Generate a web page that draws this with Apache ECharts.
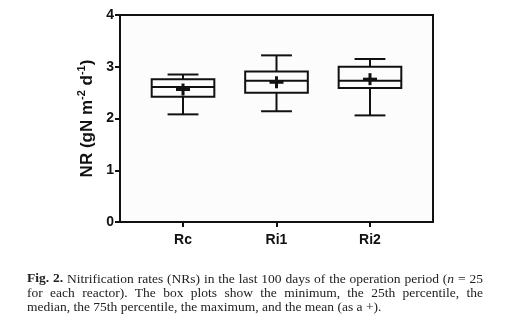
<!DOCTYPE html>
<html><head><meta charset="utf-8">
<script src="https://cdn.jsdelivr.net/npm/echarts@6/dist/echarts.min.js"></script>
<style>html,body{margin:0;padding:0;background:#fff}#c{width:507px;height:334px}</style>
</head><body><div id="c"></div>
<script>
var categories = ['Rc', 'Ri1', 'Ri2'];
var minVals    = [2.08, 2.14, 2.06];
var q1Vals     = [2.42, 2.50, 2.59];
var medianVals = [2.61, 2.73, 2.73];
var q3Vals     = [2.76, 2.91, 3.00];
var maxVals    = [2.85, 3.22, 3.15];
var meanVals   = [2.56, 2.70, 2.76];
var yTicks     = [0, 1, 2, 3, 4];
var captionLines = [
  '**Fig.** **2.** Nitrification rates (NRs) in the last 100 days of the operation period (*n* = 25',
  'for each reactor). The box plots show the minimum, the 25th percentile, the',
  'median, the 75th percentile, the maximum, and the mean (as a +).'
];

var data = categories.map(function (c, i) {
  return [i + 1, minVals[i], q1Vals[i], medianVals[i], q3Vals[i], maxVals[i], meanVals[i]];
});

var BOX_W = 0.67, CAP_W = 0.33;

function renderItem(params, api) {
  var x = api.value(0);
  var pMin = api.coord([x, api.value(1)]);
  var pQ1 = api.coord([x, api.value(2)]);
  var pMed = api.coord([x, api.value(3)]);
  var pQ3 = api.coord([x, api.value(4)]);
  var pMax = api.coord([x, api.value(5)]);
  var pMean = api.coord([x, api.value(6)]);
  var bw = api.size([BOX_W, 0])[0];
  var cw = api.size([CAP_W, 0])[0];
  var cx = pMed[0];
  function ln(x1, y1, x2, y2, w) {
    return { type: 'line', shape: { x1: x1, y1: y1, x2: x2, y2: y2 },
             style: { stroke: '#111', lineWidth: w || 2 } };
  }
  return {
    type: 'group',
    children: [
      ln(cx, pMax[1], cx, pQ3[1]),
      ln(cx, pQ1[1], cx, pMin[1]),
      ln(cx - cw / 2, pMax[1], cx + cw / 2, pMax[1]),
      ln(cx - cw / 2, pMin[1], cx + cw / 2, pMin[1]),
      { type: 'rect', shape: { x: cx - bw / 2, y: pQ3[1], width: bw, height: pQ1[1] - pQ3[1] },
        style: { stroke: '#111', lineWidth: 2, fill: 'none' } },
      ln(cx - bw / 2, pMed[1], cx + bw / 2, pMed[1]),
      ln(cx - 7, pMean[1], cx + 7, pMean[1], 3),
      ln(cx, pMean[1] - 6, cx, pMean[1] + 6, 3)
    ]
  };
}

// ---- caption (justified text drawn word by word) ----
var CAP_FONT = 'Liberation Serif', CAP_SIZE = 13.5, CAP_LEFT = 27, CAP_RIGHT = 483, CAP_TOP = 272, CAP_LH = 14;
var mctx = document.createElement('canvas').getContext('2d');
function fontFor(st) {
  return (st === 'b' ? 'bold ' : st === 'i' ? 'italic ' : '') + CAP_SIZE + 'px "' + CAP_FONT + '"';
}
function parseWord(w) {
  var re = /\*\*(.+?)\*\*|\*(.+?)\*|([^*]+)/g, m, out = [];
  while ((m = re.exec(w))) {
    if (m[1] !== undefined) out.push({ t: m[1], s: 'b' });
    else if (m[2] !== undefined) out.push({ t: m[2], s: 'i' });
    else out.push({ t: m[3], s: 'r' });
  }
  return out;
}
function measureSegs(segs) {
  var w = 0;
  segs.forEach(function (sg) { mctx.font = fontFor(sg.s); w += mctx.measureText(sg.t).width; });
  return w;
}
var richStyles = {
  r: { fontFamily: CAP_FONT, fontSize: CAP_SIZE, fill: '#222' },
  b: { fontFamily: CAP_FONT, fontSize: CAP_SIZE, fontWeight: 'bold', fill: '#222' },
  i: { fontFamily: CAP_FONT, fontSize: CAP_SIZE, fontStyle: 'italic', fill: '#222' }
};
var captionGraphics = [];
captionLines.forEach(function (line, li) {
  var words = line.split(' ').map(parseWord);
  var widths = words.map(measureSegs);
  var total = widths.reduce(function (a, b) { return a + b; }, 0);
  mctx.font = fontFor('r');
  var spaceW = mctx.measureText(' ').width;
  var justify = li < captionLines.length - 1;
  var gap = justify ? (CAP_RIGHT - CAP_LEFT - total) / (words.length - 1) : spaceW;
  var x = CAP_LEFT;
  words.forEach(function (segs, wi) {
    captionGraphics.push({
      type: 'text', x: x, y: CAP_TOP + li * CAP_LH,
      style: { text: segs.map(function (sg) { return '{' + sg.s + '|' + sg.t + '}'; }).join(''),
               rich: richStyles, font: fontFor('r'), fill: '#222', textVerticalAlign: 'top', verticalAlign: 'top' }
    });
    x += widths[wi] + gap;
  });
});

var chart = echarts.init(document.getElementById('c'), null, { renderer: 'canvas' });
chart.setOption({
  animation: false,
  backgroundColor: '#fff',
  grid: { left: 120, right: 74, top: 15, bottom: 112, show: true, borderColor: '#111', borderWidth: 2, backgroundColor: '#fcfcfc' },
  xAxis: {
    type: 'value', min: 0.326, max: 3.674,
    splitLine: { show: false },
    axisLine: { show: true, onZero: false, lineStyle: { color: '#111', width: 2 } },
    axisTick: { show: true, customValues: [1, 2, 3], length: 5, lineStyle: { color: '#111', width: 2 } },
    axisLabel: { customValues: [1, 2, 3], margin: 11, color: '#111', fontFamily: 'Liberation Sans', fontWeight: 'bold', fontSize: 14,
      formatter: function (v) { return categories[Math.round(v) - 1]; } }
  },
  yAxis: {
    type: 'value', min: 0, max: 4, interval: 1,
    splitLine: { show: false },
    axisLine: { show: true, lineStyle: { color: '#111', width: 2 } },
    axisTick: { show: true, length: 5, lineStyle: { color: '#111', width: 2 } },
    axisLabel: { margin: 6, color: '#111', fontFamily: 'Liberation Sans', fontWeight: 'bold', fontSize: 14,
      formatter: function (v) { return yTicks.indexOf(v) >= 0 ? String(v) : ''; } },
    name: 'NR (gN m{s|-2} d{s|-1})',
    nameLocation: 'middle', nameGap: 18, nameRotate: 90,
    nameTextStyle: { color: '#111', fontFamily: 'Liberation Sans', fontWeight: 'bold', fontSize: 17,
      rich: { s: { fontSize: 11, fontFamily: 'Liberation Sans', fontWeight: 'bold', color: '#111', verticalAlign: 'top', padding: [0, 0, 9, 0] } } }
  },
  series: [{ type: 'custom', renderItem: renderItem, data: data, encode: { x: 0, y: [1, 2, 3, 4, 5, 6] }, clip: false, z: 5 }],
  graphic: captionGraphics
});
</script></body></html>
